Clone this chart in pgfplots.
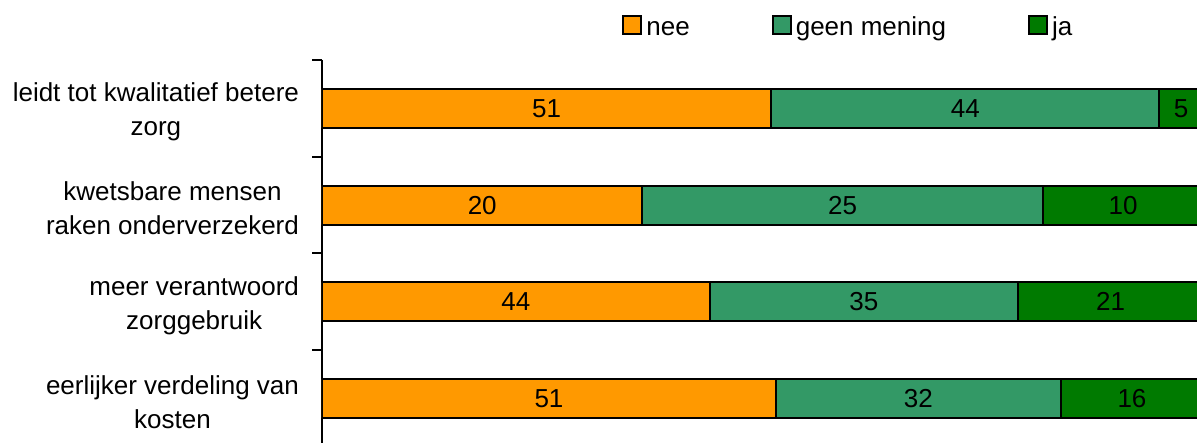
\documentclass[border=0pt]{standalone}
\usepackage{fontspec}
\setmainfont{Liberation Sans}
\usepackage{pgfplots}
\usepackage{pgfplotstable}
\pgfplotsset{compat=1.18}
\definecolor{cnee}{HTML}{FF9900}
\definecolor{cgm}{HTML}{339966}
\definecolor{cja}{HTML}{007A00}

% x = share of the bar (each row scaled to 100), label = printed value
\pgfplotstableread{
y  x       label
0  51      51
1  36.364  20
2  44      44
3  51.515  51
}\tnee
\pgfplotstableread{
y  x       label
0  44      44
1  45.455  25
2  35      35
3  32.323  32
}\tgm
\pgfplotstableread{
y  x       label
0  5       5
1  18.182  10
2  21      21
3  16.162  16
}\tja
% centre of each "ja" segment, for its value label
\pgfplotstableread{
y  x       label
0  97.5    5
1  90.909  10
2  89.5    21
3  91.919  16
}\tjalab

\begin{document}
\fontsize{13}{17}\selectfont
\begin{tikzpicture}
\useasboundingbox (-161pt,0pt) rectangle (437.5pt,221.5pt);
\pgfplotsset{common/.style={
  at={(0pt,0pt)}, anchor=south west,
  scale only axis, width=437.5pt, height=191.5pt,
  xmin=0, xmax=99.3,
  ymin=-0.5, ymax=3.46, y dir=reverse}}
\begin{axis}[
  common,
  xbar stacked, bar width=19.5pt,
  axis x line=none, axis y line*=left,
  y axis line style={line width=1pt, black},
  ytick={0,1,2,3},
  yticklabels={{leidt tot kwalitatief betere\\zorg},{kwetsbare mensen\\raken onderverzekerd},{meer verantwoord\\zorggebruik},{eerlijker verdeling van\\kosten}},
  major tick length=0pt,
  yticklabel style={align=center, font=\fontsize{13}{17}\selectfont, xshift=-7pt, yshift=-1.8pt, text=black},
  extra y ticks={-0.5,0.5,1.5,2.5},
  extra y tick labels={},
  extra y tick style={major tick length=5pt, tick align=outside, tick style={line width=1pt, black}},
  every axis plot/.append style={draw=black, line width=1pt},
  point meta=explicit symbolic,
  every node near coord/.append style={font=\fontsize{13}{17}\selectfont, text=black, anchor=center},
  legend columns=3,
  legend style={draw=none, fill=none, at={(axis description cs:0.3429,1.083)}, anchor=west, inner xsep=0pt, inner ysep=0pt,
    font=\fontsize{13}{17}\selectfont, nodes={text height=1.6ex, text depth=0.5ex},
    /tikz/every even column/.append style={column sep=39pt}},
  legend image code/.code={\draw[#1, draw=black, line width=1pt] (0pt,-3pt) rectangle (9pt,6pt);},
]
\addplot[fill=cnee, nodes near coords={\pgfplotspointmeta}] table[x=x, y=y, meta=label] {\tnee};
\addplot[fill=cgm, nodes near coords={\pgfplotspointmeta}] table[x=x, y=y, meta=label] {\tgm};
\addplot[fill=cja] table[x=x, y=y, meta=label] {\tja};
\legend{nee, geen mening, ja}
\end{axis}
\begin{axis}[
  common, hide axis, clip=false,
  point meta=explicit symbolic,
  nodes near coords={\pgfplotspointmeta},
  every node near coord/.append style={font=\fontsize{13}{17}\selectfont, text=black, anchor=center},
]
\addplot[draw=none, mark=none] table[x=x, y=y, meta=label] {\tjalab};
\end{axis}
\end{tikzpicture}
\end{document}
